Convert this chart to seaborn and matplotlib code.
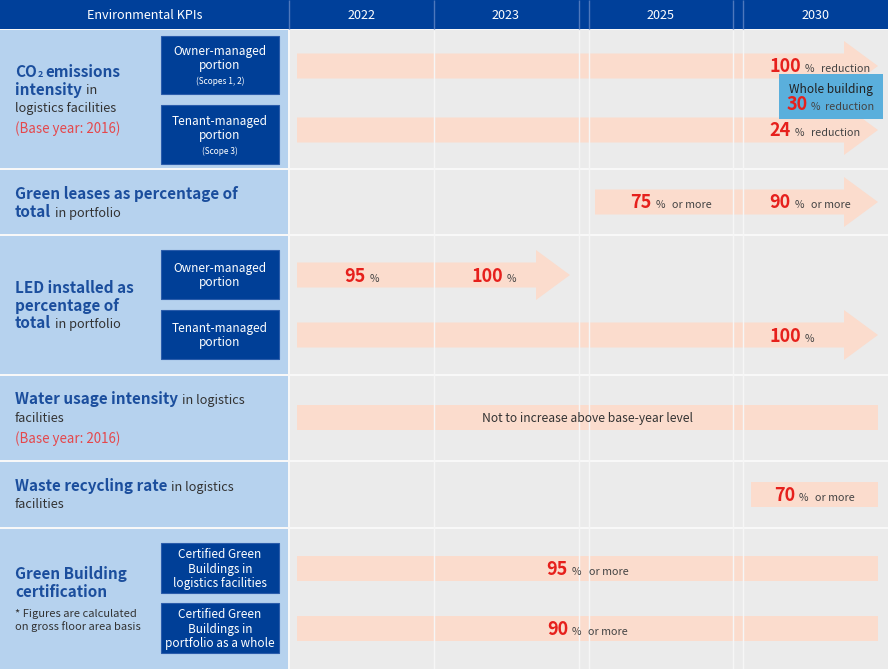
import matplotlib
matplotlib.use("Agg")
import matplotlib.pyplot as plt
import seaborn as sns
from matplotlib.patches import Polygon, Rectangle

sns.set_theme(style="white")
plt.rcParams['font.family'] = ['Noto Sans CJK JP', 'DejaVu Sans']

# ---------------- data ----------------
years = ["2022", "2023", "2025", "2030"]
header_left = "Environmental KPIs"

# arrows (lane, from-year, to-year)
arrow_lanes = ["co2_owner", "co2_tenant", "green_lease", "led_owner", "led_tenant"]
arrow_from = ["2022", "2022", "2025", "2022", "2022"]
arrow_to = ["2030", "2030", "2030", "2023", "2030"]

# flat bands (lane, from-year, to-year)
band_lanes = ["water", "waste", "gb_logistics", "gb_portfolio"]
band_from = ["2022", "2030", "2022", "2022"]
band_to = ["2030", "2030", "2030", "2030"]

# target labels
target_lane = ["co2_owner", "co2_tenant", "green_lease", "green_lease", "led_owner",
               "led_owner", "led_tenant", "waste", "gb_logistics", "gb_portfolio"]
target_year = ["2030", "2030", "2025", "2030", "2022", "2023", "2030", "band", "band", "band"]
target_value = [100, 24, 75, 90, 95, 100, 100, 70, 95, 90]
target_suffix = ["reduction", "reduction", "or more", "or more", "", "", "", "or more",
                 "or more", "or more"]

whole_building_title = "Whole building"
whole_building_value = 30
whole_building_suffix = "reduction"
water_note = "Not to increase above base-year level"

sub_boxes = [["Owner-managed", "portion"], ["Tenant-managed", "portion"],
             ["Owner-managed", "portion"], ["Tenant-managed", "portion"],
             ["Certified Green", "Buildings in", "logistics facilities"],
             ["Certified Green", "Buildings in", "portfolio as a whole"]]
sub_box_notes = ["(Scopes 1, 2)", "(Scope 3)", "", "", "", ""]

# ---------------- layout ----------------
W, H = 888, 669
header_blue = "#00409a"
box_blue = "#003f97"
left_bg = "#b6d2ee"
right_bg = "#ebebeb"
peach = "#fbdccd"
red = "#e6201c"
title_blue = "#1b4e9d"
base_red = "#e5474b"
text_dark = "#333333"
wb_blue = "#5aafdc"

col_left = {"2022": 290, "2023": 434, "2025": 589, "2030": 743}
col_right = {"2022": 433, "2023": 578, "2025": 733, "2030": 888}
label_shift = {"2022": 0, "2023": -12, "2025": 10}
rows = [(30, 168), (170, 234), (236, 374), (376, 460), (462, 527), (529, 669)]
lane_y = {"co2_owner": 66, "co2_tenant": 130, "green_lease": 202, "led_owner": 275,
          "led_tenant": 335, "water": 417.5, "waste": 494.5, "gb_logistics": 568.5,
          "gb_portfolio": 628.5}
box_pos = [(36, 94), (105, 164), (250, 299), (310, 359), (543, 593), (603, 653)]

fig = plt.figure(figsize=(W / 100, H / 100), dpi=100)
fig.patch.set_facecolor("#f8f8f8")
ax = fig.add_axes([0, 0, 1, 1])
ax.set_xlim(0, W)
ax.set_ylim(H, 0)
ax.axis("off")
renderer = fig.canvas.get_renderer()

styles = {
    "B": dict(fontsize=11, fontweight="bold", color=title_blue),
    "N": dict(fontsize=9.2, color=text_dark),
    "R": dict(fontsize=9.6, color=base_red),
    "S": dict(fontsize=6.5, fontweight="bold", color=title_blue),
    "F": dict(fontsize=8, color=text_dark),
    "NUM": dict(fontsize=13, fontweight="bold", color=red),
    "PCT": dict(fontsize=7.5, color="#444444"),
    "SUF": dict(fontsize=7.8, color="#444444"),
    "HDR": dict(fontsize=9.1, color="white"),
    "BOX": dict(fontsize=8.5, color="white"),
    "BOXS": dict(fontsize=6, color="white"),
    "WB": dict(fontsize=8.6, color="#222222"),
    "NOTE": dict(fontsize=8.7, color=text_dark),
}


def draw_line(x, y, pieces, ha="left"):
    texts = []
    cur = x
    for txt, st, gap in pieces:
        cur += gap
        t = ax.text(cur, y, txt, va="baseline", ha="left", **styles[st])
        w = t.get_window_extent(renderer).width
        texts.append(t)
        cur += w
    total = cur - x
    if ha == "center":
        for t in texts:
            px, py = t.get_position()
            t.set_position((px - total / 2, py))
    return total


# backgrounds
ax.add_patch(Rectangle((0, 0), W, 29, color=header_blue, lw=0))
for top, bot in rows:
    ax.add_patch(Rectangle((0, top), 288, bot - top, color=left_bg, lw=0))
    ax.add_patch(Rectangle((290, top), W - 290, bot - top, color=right_bg, lw=0))

# grid lines
vx = [433.5, 578.5, 588.5, 733, 742.5]
ax.vlines(vx, 30, H, color="#f6f6f6", lw=1)
ax.vlines([289] + vx, 0, 29, color="#4e78bc", lw=1)

# header text
draw_line(145, 19, [(header_left, "HDR", 0)], ha="center")
for y in years:
    draw_line((col_left[y] + col_right[y]) / 2, 19, [(y, "HDR", 0)], ha="center")

# arrows
BODY, HEAD, HEADLEN = 25, 50, 34
for lane, a, b in zip(arrow_lanes, arrow_from, arrow_to):
    yc = lane_y[lane]
    x0 = col_left[a] + 7 if a != "2025" else col_left[a] + 6
    xt = col_right[b] - 10 if b == "2030" else col_right[b] - 8
    xh = xt - HEADLEN
    pts = [(x0, yc - BODY / 2), (xh, yc - BODY / 2), (xh, yc - HEAD / 2), (xt, yc),
           (xh, yc + HEAD / 2), (xh, yc + BODY / 2), (x0, yc + BODY / 2)]
    ax.add_patch(Polygon(pts, closed=True, color=peach, lw=0))

# bands
for lane, a, b in zip(band_lanes, band_from, band_to):
    yc = lane_y[lane]
    x0 = col_left[a] + (7 if a == "2022" else 8)
    x1 = col_right[b] - 10
    ax.barh(yc, x1 - x0, left=x0, height=25, color=peach, lw=0)

# whole-building box
ax.add_patch(Rectangle((779, 74), 104, 45, color=wb_blue, lw=0))
draw_line(831, 93, [(whole_building_title, "WB", 0)], ha="center")
draw_line(830, 110.5, [(str(whole_building_value), "NUM", 0), ("%", "PCT", 3),
                       (whole_building_suffix, "SUF", 5)], ha="center")

# target labels
band_center = {}
for lane, a, b in zip(band_lanes, band_from, band_to):
    band_center[lane] = (col_left[a] + (7 if a == "2022" else 8) + col_right[b] - 10) / 2
for lane, yr, val, suf in zip(target_lane, target_year, target_value, target_suffix):
    pieces = [(str(val), "NUM", 0), ("%", "PCT", 4)]
    if suf:
        pieces.append((suf, "SUF", 7))
    yb = lane_y[lane] + 6.5
    if yr == "band":
        draw_line(band_center[lane], yb, pieces, ha="center")
    elif yr == "2030":
        draw_line(769, yb, pieces)
    else:
        draw_line((col_left[yr] + col_right[yr]) / 2 + label_shift[yr], yb, pieces,
                  ha="center")

draw_line(band_center["water"], 422, [(water_note, "NOTE", 0)], ha="center")

# sub boxes
for (top, bot), lines, note in zip(box_pos, sub_boxes, sub_box_notes):
    ax.add_patch(Rectangle((161, top), 118, bot - top, facecolor=box_blue,
                           edgecolor="#2a5cab", lw=0.8))
    n = len(lines)
    total_h = 14 * (n - 1) + (15 if note else 0)
    first = (top + bot) / 2 - total_h / 2 + 4.5
    for i, ln in enumerate(lines):
        draw_line(220, first + 14 * i, [(ln, "BOX", 0)], ha="center")
    if note:
        draw_line(220, first + 14 * (n - 1) + 15, [(note, "BOXS", 0)], ha="center")

# left KPI texts
L = 15
draw_line(L, 77, [("CO", "B", 0), ("2", "S", 0.5), ("emissions", "B", 3)])
draw_line(L, 94.5, [("intensity", "B", 0), ("in", "N", 4)])
draw_line(L, 112, [("logistics facilities", "N", 0)])
draw_line(L, 133, [("(Base year: 2016)", "R", 0)])

draw_line(L, 199, [("Green leases as percentage of", "B", 0)])
draw_line(L, 217, [("total", "B", 0), ("in portfolio", "N", 4)])

draw_line(L, 293, [("LED installed as", "B", 0)])
draw_line(L, 310.5, [("percentage of", "B", 0)])
draw_line(L, 328, [("total", "B", 0), ("in portfolio", "N", 4)])

draw_line(L, 404, [("Water usage intensity", "B", 0), ("in logistics", "N", 4)])
draw_line(L, 422, [("facilities", "N", 0)])
draw_line(L, 443, [("(Base year: 2016)", "R", 0)])

draw_line(L, 491, [("Waste recycling rate", "B", 0), ("in logistics", "N", 4)])
draw_line(L, 508.5, [("facilities", "N", 0)])

draw_line(L, 579, [("Green Building", "B", 0)])
draw_line(L, 597, [("certification", "B", 0)])
draw_line(L, 617, [("* Figures are calculated", "F", 0)])
draw_line(L, 630, [("on gross floor area basis", "F", 0)])

fig.savefig("out.png", dpi=100, facecolor=fig.get_facecolor())
